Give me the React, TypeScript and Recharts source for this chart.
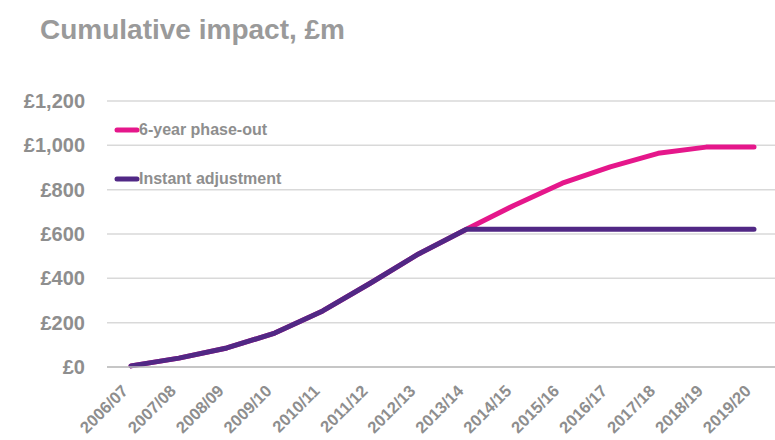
import React from "react";
import { LineChart, Line, XAxis, YAxis, CartesianGrid, Legend } from "recharts";

// Financial years on the x axis
const years = [
  "2006/07", "2007/08", "2008/09", "2009/10", "2010/11", "2011/12", "2012/13",
  "2013/14", "2014/15", "2015/16", "2016/17", "2017/18", "2018/19", "2019/20",
];

// Cumulative impact, £m
const phaseOut = [5, 40, 86, 153, 253, 379, 510, 621, 730, 829, 903, 964, 992, 992];
const instant = [5, 40, 86, 153, 253, 379, 510, 621, 621, 621, 621, 621, 621, 621];

const yTicks = [0, 200, 400, 600, 800, 1000, 1200];

const PINK = "#e5178b";
const PURPLE = "#512885";
const GREY = "#8e8e8e";
const FONT = "'Liberation Sans', Arial, sans-serif";

const data = years.map((year, i) => ({
  year,
  phaseOut: phaseOut[i],
  instant: instant[i],
}));

const fmt = (v: number) => "£" + v.toLocaleString("en-GB");

// x tick, rotated 45 degrees, text ends just under the category
const YearTick = (props: any) => {
  const { x, y, payload } = props;
  return (
    <g transform={`translate(${x - 2},${y + 17})`}>
      <text
        textAnchor="end"
        transform="rotate(-45)"
        fill={GREY}
        fontFamily={FONT}
        fontWeight="bold"
        fontSize={16.5}
      >
        {payload.value}
      </text>
    </g>
  );
};

// legend inside the plot area, top left
const LegendBox = (props: any) => {
  const { payload } = props;
  return (
    <div>
      {(payload || []).map((item: any, i: number) => (
        <div
          key={item.value}
          style={{
            display: "flex",
            alignItems: "center",
            height: 20,
            marginBottom: i === 0 ? 29 : 0,
          }}
        >
          <svg width={26} height={8}>
            <line x1={3} y1={4} x2={23} y2={4} stroke={item.color} strokeWidth={5} strokeLinecap="round" />
          </svg>
          <span style={{ color: GREY, fontFamily: FONT, fontWeight: "bold", fontSize: 16, marginLeft: -1 }}>
            {item.value}
          </span>
        </div>
      ))}
    </div>
  );
};

export default function App() {
  return (
    <div style={{ position: "absolute", left: 0, top: 0, width: 775, height: 440, background: "#fff" }}>
      <div
        style={{
          position: "absolute",
          left: 40,
          top: 16,
          fontFamily: FONT,
          fontWeight: "bold",
          fontSize: 28,
          lineHeight: "28px",
          color: "#9a9a9a",
          whiteSpace: "nowrap",
        }}
      >
        Cumulative impact, £m
      </div>
      <LineChart
        width={775}
        height={440}
        data={data}
        margin={{ top: 101, right: 0, bottom: 0, left: 0 }}
      >
        <CartesianGrid vertical={false} stroke="#d9d9d9" strokeWidth={1.5} />
        <XAxis
          dataKey="year"
          tick={<YearTick />}
          tickLine={false}
          axisLine={{ stroke: "#bdbdbd", strokeWidth: 1.5 }}
          interval={0}
          height={73}
          padding={{ left: 24, right: 21 }}
        />
        <YAxis
          domain={[0, 1200]}
          ticks={yTicks}
          tickFormatter={fmt}
          axisLine={false}
          tickLine={false}
          width={107}
          tickMargin={16}
          tick={{ fill: GREY, fontFamily: FONT, fontWeight: "bold", fontSize: 20 }}
        />
        <Legend
          layout="vertical"
          align="center"
          verticalAlign="middle"
          content={<LegendBox />}
          wrapperStyle={{ left: 114, top: 120, width: 200 }}
        />
        <Line
          name="6-year phase-out"
          dataKey="phaseOut"
          stroke={PINK}
          strokeWidth={5}
          strokeLinecap="round"
          strokeLinejoin="round"
          dot={false}
          isAnimationActive={false}
        />
        <Line
          name="Instant adjustment"
          dataKey="instant"
          stroke={PURPLE}
          strokeWidth={5}
          strokeLinecap="round"
          strokeLinejoin="round"
          dot={false}
          isAnimationActive={false}
        />
      </LineChart>
    </div>
  );
}
